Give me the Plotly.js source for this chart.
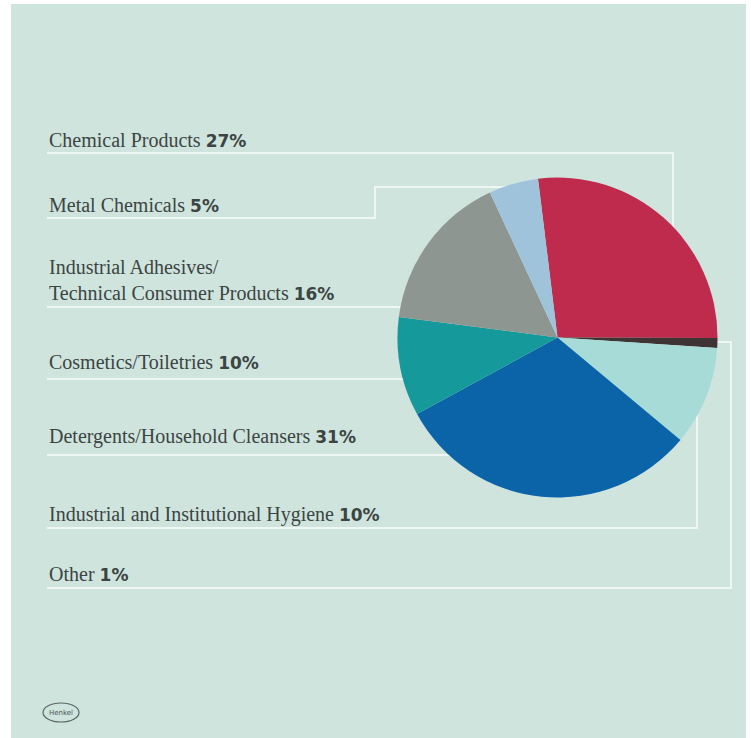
<!DOCTYPE html>
<html>
<head>
<meta charset="utf-8">
<script src="https://cdn.plot.ly/plotly-3.0.1.min.js"></script>
<style>html,body{margin:0;padding:0;background:#fff;}#chart{width:751px;height:738px;}</style>
</head>
<body>
<div id="chart"></div>
<script>
// Sectors in clockwise order, starting just left of 12 o'clock
const sectors = ['Chemical Products', 'Other', 'Industrial and Institutional Hygiene',
  'Detergents/Household Cleansers', 'Cosmetics/Toiletries',
  'Industrial Adhesives/<br>Technical Consumer Products', 'Metal Chemicals'];
const shares = [27, 1, 10, 31, 10, 16, 5];
const sliceColors = ['#bf2b4d', '#3e3434', '#a7dbd7', '#0b63a8', '#15999b', '#8e9692', '#a0c3dc'];
// Order of the legend texts, top to bottom
const labelOrder = ['Chemical Products', 'Metal Chemicals',
  'Industrial Adhesives/<br>Technical Consumer Products', 'Cosmetics/Toiletries',
  'Detergents/Household Cleansers', 'Industrial and Institutional Hygiene', 'Other'];

const W = 751, H = 738;
const px = x => x / W;
const py = y => 1 - y / H;

// pie geometry (pixels)
const cx = 557.5, cy = 337.5, R = 160;

// label text centres (pixels)
const labelY = [140, 205, 280, 362, 437, 514, 574];
// leader line paths (pixels)
const leaderPaths = [
  [[47,153],[673,153],[673,232]],
  [[47,218],[375,218],[375,187],[508,187]],
  [[47,307],[404,307]],
  [[47,379],[406,379]],
  [[47,455],[452,455]],
  [[47,528],[697,528],[697,410]],
  [[47,588],[731,588],[731,342],[712,342]]
];

const shapes = [];
shapes.push({type:'rect', xref:'paper', yref:'paper', x0:px(11), x1:px(746), y0:py(738), y1:py(4),
  fillcolor:'#d0e4de', line:{width:0}, layer:'below'});
leaderPaths.forEach(p => {
  const d = p.map((pt,i) => (i ? 'L' : 'M') + px(pt[0]) + ',' + py(pt[1])).join(' ');
  shapes.push({type:'path', xref:'paper', yref:'paper', path:d, line:{color:'#eef7f4', width:2}, layer:'below'});
});
// Henkel logo oval
shapes.push({type:'circle', xref:'paper', yref:'paper', x0:px(43), x1:px(79), y0:py(722), y1:py(703),
  line:{color:'#5a6664', width:1.2}, fillcolor:'rgba(0,0,0,0)'});

const annotations = labelOrder.map((lab, k) => {
  const idx = sectors.indexOf(lab);
  return {
    xref:'paper', yref:'paper', x:px(47), y:py(labelY[k]), xanchor:'left', yanchor:'middle',
    align:'left', showarrow:false,
    text: lab + ' <span style="font-family:DejaVu Sans;font-weight:bold;font-size:17px">' + shares[idx] + '%</span>',
    font:{family:'Liberation Serif', size:20, color:'#3b4543'}
  };
});
annotations.push({xref:'paper', yref:'paper', x:px(61), y:py(712.5), xanchor:'center', yanchor:'middle',
  showarrow:false, text:'Henkel', font:{family:'DejaVu Sans', size:7, color:'#4a5654'}});

const trace = {
  type:'pie', labels:sectors, values:shares, sort:false, direction:'clockwise', rotation:-7,
  marker:{colors:sliceColors, line:{width:0}}, textinfo:'none', hoverinfo:'label+percent',
  showlegend:false,
  domain:{x:[px(cx-R), px(cx+R)], y:[py(cy+R), py(cy-R)]}
};

const layout = {
  width:W, height:H, margin:{l:0, r:0, t:0, b:0},
  paper_bgcolor:'#ffffff', plot_bgcolor:'rgba(0,0,0,0)',
  shapes:shapes, annotations:annotations, showlegend:false
};

Plotly.newPlot('chart', [trace], layout, {displayModeBar:false, staticPlot:true});
</script>
</body>
</html>
